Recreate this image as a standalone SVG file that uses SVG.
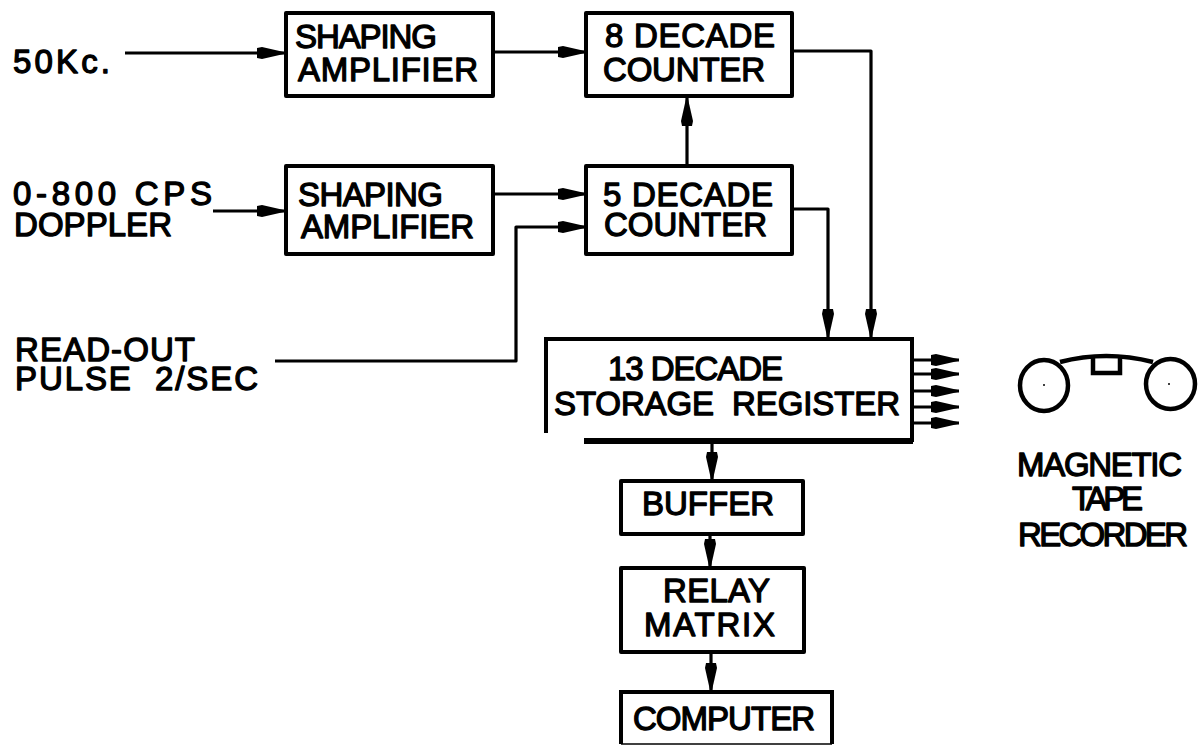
<svg xmlns="http://www.w3.org/2000/svg" width="1199" height="745" viewBox="0 0 1199 745">
<style>
.b{fill:#fff;stroke:#000;stroke-width:4;stroke-linejoin:round}
.c{fill:none;stroke:#000;stroke-width:3.2;stroke-linejoin:round}
.t{font-family:"Liberation Sans",Arial,sans-serif;font-size:33px;fill:#000;stroke:#000;stroke-width:1.3;stroke-linejoin:round}
</style>
<defs><marker id="a" markerUnits="userSpaceOnUse" markerWidth="30" markerHeight="14" refX="28" refY="7" orient="auto"><path d="M0 2L5 1L28 6.2V7.8L5 13L0 12Z" fill="#000"/></marker></defs>
<rect width="1199" height="745" fill="#fff"/>
<g id="connectors">
<path class="c" d="M125 53H285" marker-end="url(#a)"/>
<path class="c" d="M213 211H285" marker-end="url(#a)"/>
<path class="c" d="M494 52H586" marker-end="url(#a)"/>
<path class="c" d="M494 194H586" marker-end="url(#a)"/>
<path class="c" d="M275 361H516V227H586" marker-end="url(#a)"/>
<path class="c" d="M687 164V98" marker-end="url(#a)"/>
<path class="c" d="M792 209H828V337" marker-end="url(#a)"/>
<path class="c" d="M792 51H871V337" marker-end="url(#a)"/>
<path class="c" d="M712 442V480" marker-end="url(#a)"/>
<path class="c" d="M710 535V567" marker-end="url(#a)"/>
<path class="c" d="M711 652V691" marker-end="url(#a)"/>
<path class="c" d="M913 360H959" marker-end="url(#a)"/>
<path class="c" d="M913 374H959" marker-end="url(#a)"/>
<path class="c" d="M913 391H959" marker-end="url(#a)"/>
<path class="c" d="M913 407H959" marker-end="url(#a)"/>
<path class="c" d="M913 423H959" marker-end="url(#a)"/>
</g>
<g id="in1"><text class="t" x="13" y="73" textLength="97">50Kc.</text></g>
<g id="in2"><text class="t" x="13" y="205" textLength="199">0-800 CPS</text><text class="t" x="14" y="236" textLength="158">DOPPLER</text></g>
<g id="in3"><text class="t" x="15" y="361" textLength="180">READ-OUT</text><text class="t" x="15" y="390" textLength="243" xml:space="preserve">PULSE  2/SEC</text></g>
<g id="shape1"><rect class="b" x="286" y="13" width="207" height="83"/><text class="t" x="295" y="48" textLength="142">SHAPING</text><text class="t" x="298" y="81" textLength="180">AMPLIFIER</text></g>
<g id="shape2"><rect class="b" x="286" y="166" width="207" height="88"/><text class="t" x="298" y="206" textLength="145">SHAPING</text><text class="t" x="301" y="238" textLength="173">AMPLIFIER</text></g>
<g id="c8"><rect class="b" x="586" y="13" width="206" height="83"/><text class="t" x="605" y="47" textLength="170">8 DECADE</text><text class="t" x="603" y="81" textLength="162">COUNTER</text></g>
<g id="c5"><rect class="b" x="586" y="166" width="206" height="88"/><text class="t" x="603" y="206" textLength="170">5 DECADE</text><text class="t" x="604" y="236" textLength="163">COUNTER</text></g>
<g id="reg"><path d="M546 433V339H912V440H584" fill="#fff" stroke="#000" stroke-width="4"/><path d="M584 441H913" stroke="#000" stroke-width="6"/><text class="t" x="608" y="380" textLength="175">13 DECADE</text><text class="t" x="554" y="415" textLength="346" xml:space="preserve">STORAGE  REGISTER</text></g>
<g id="buffer"><rect class="b" x="621" y="481" width="182" height="53"/><text class="t" x="642" y="515" textLength="132">BUFFER</text></g>
<g id="relay"><rect class="b" x="621" y="568" width="183" height="84"/><text class="t" x="663" y="602" textLength="107">RELAY</text><text class="t" x="644" y="636" textLength="131">MATRIX</text></g>
<g id="comp"><path d="M621 744V692H832V744" fill="#fff" stroke="#000" stroke-width="4"/><path d="M621 744H832" stroke="#000" stroke-width="1.5"/><text class="t" x="633" y="730" textLength="182">COMPUTER</text></g>
<g id="tape" fill="none" stroke="#000" stroke-width="4.5">
<ellipse cx="1044" cy="385.5" rx="24" ry="25.5"/><ellipse cx="1170.5" cy="384" rx="24.5" ry="25"/>
<path d="M1060 362Q1106 350 1153 362"/><path d="M1093 358V373H1120V358"/>
</g>
<g id="dots" fill="#000"><circle cx="1044" cy="385" r="1"/><circle cx="1169" cy="384" r="1"/></g>
<g id="tapelabel"><text class="t" x="1017" y="476" textLength="165">MAGNETIC</text><text class="t" x="1072" y="510" textLength="71">TAPE</text><text class="t" x="1018" y="546" textLength="170">RECORDER</text></g>
</svg>
